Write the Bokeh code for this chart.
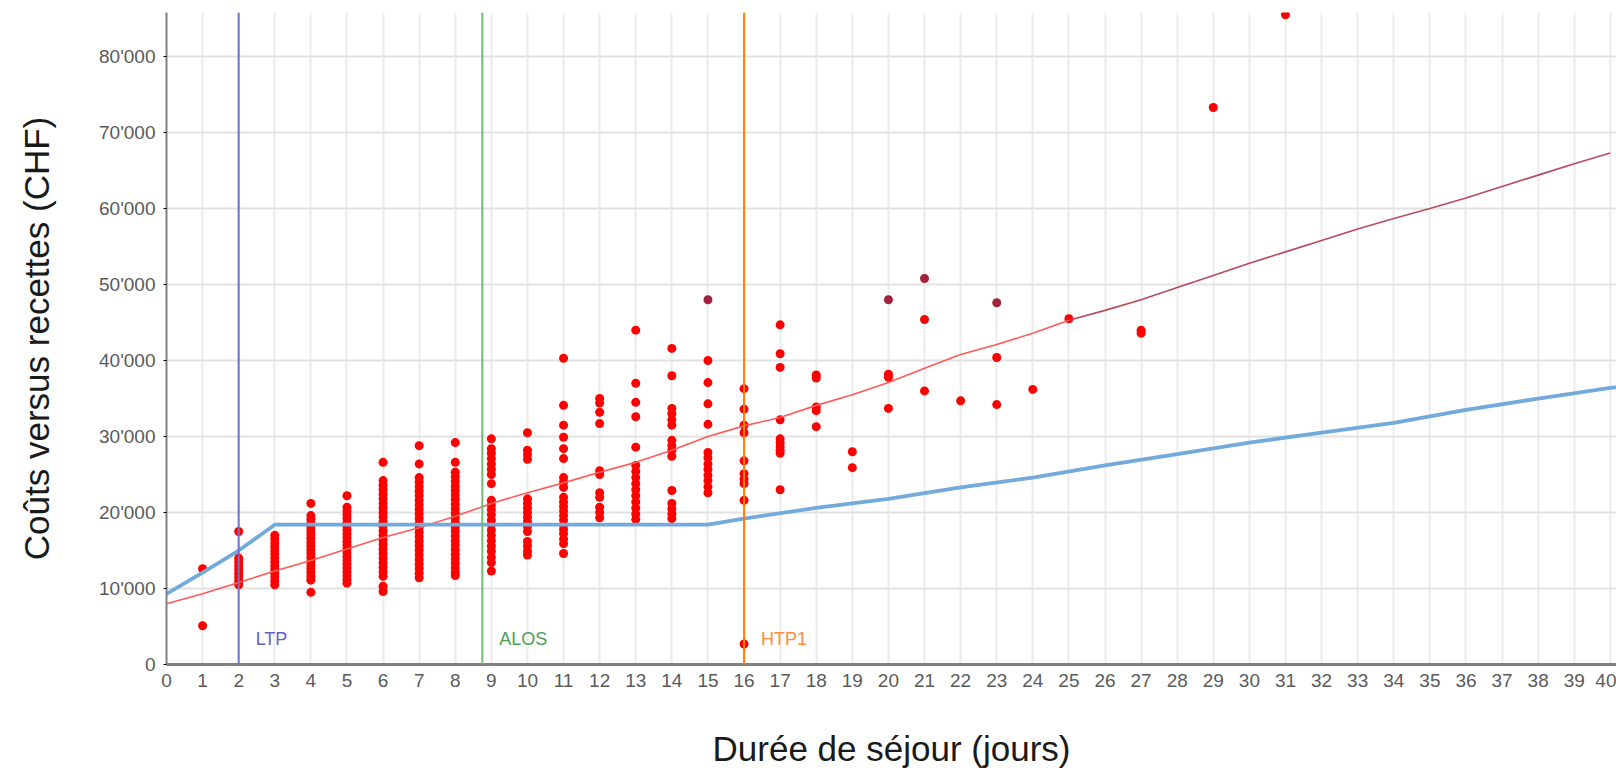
from bokeh.plotting import figure
from bokeh.models import Range1d, FixedTicker, Span, Label, ColumnDataSource
from bokeh.embed import file_html
from bokeh.resources import INLINE

# ---- cases: cost per length of stay (days) ----
d01 = [12600, 5100]
d02 = [17500, 14000, 13500, 13000, 12500, 12000, 11500, 11000, 10500]
d03 = [17000, 16500, 16000, 15500, 15000, 14500, 14000, 13500, 13000, 12500, 12000, 11500, 11000, 10500]
d04 = [21200, 19600, 19100, 18600, 18100, 17600, 17100, 16600, 16100, 15600, 15100, 14600, 14100,
       13600, 13100, 12600, 12100, 11600, 11100, 9500]
d05 = [22200, 20700, 20200, 19700, 19200, 18700, 18200, 17700, 17200, 16700, 16200, 15700, 15200,
       14700, 14200, 13700, 13200, 12700, 12200, 11700, 11200, 10700]
d06 = [26600, 24200, 23600, 23000, 22400, 21800, 21200, 20600, 20000, 19400, 18800, 18200, 17600,
       17000, 16400, 15800, 15200, 14600, 14000, 13400, 12800, 12200, 11600, 10300, 9600]
d07 = [28800, 26400, 24600, 24000, 23400, 22800, 22200, 21600, 21000, 20400, 19800, 19200, 18600,
       18000, 17400, 16800, 16200, 15600, 15000, 14400, 13800, 13200, 12600, 12000, 11400]
d08 = [29200, 26600, 25300, 24700, 24100, 23500, 22900, 22300, 21700, 21100, 20500, 19900, 19300,
       18700, 18100, 17500, 16900, 16300, 15700, 15100, 14500, 13900, 13300, 12700, 12100, 11700]
d09 = [29700, 28400, 27800, 27100, 26400, 25700, 25000, 23800, 21600, 21000, 20400, 19700, 19000,
       18400, 17700, 17000, 16300, 15600, 14900, 14100, 13400, 12300]
d10 = [30500, 28200, 27600, 27000, 21800, 21200, 20600, 20000, 19400, 18800, 18200, 17500, 16200,
       15600, 14900, 14400]
d11 = [40300, 34100, 31500, 29900, 28400, 27100, 24600, 24000, 23300, 22000, 21400, 20800, 20200,
       19600, 19000, 18400, 17800, 17200, 16500, 15900, 14600]
d12 = [35000, 34400, 33200, 31700, 25500, 25000, 22600, 22000, 20700, 20000, 19300]
d13 = [44000, 37000, 34500, 32600, 28600, 26200, 25400, 24600, 23800, 23000, 22200, 21400, 20600,
       19800, 19100]
d14 = [41600, 38000, 33700, 33000, 32200, 31500, 29500, 28800, 28200, 27400, 22900, 21200, 20500,
       19800, 19200]
d15 = [40000, 37100, 34300, 31600, 27900, 27200, 26400, 25700, 24900, 24200, 23400, 22600]
d16 = [36300, 33600, 31500, 30500, 26800, 25100, 24400, 23800, 21600, 2700]
d17 = [44700, 40900, 39100, 32200, 29700, 29200, 28700, 28200, 27800, 23000]
d18 = [38100, 37700, 33900, 33400, 31300]
d19 = [28000, 25900]
d20 = [38200, 37800, 33700]
d21 = [45400, 36000]
d22 = [34700]
d23 = [40400, 34200]
d24 = [36200]
d25 = [45500]
d27 = [44000, 43600]
d29 = [73300]
d31 = [85500]

# dark-marked cases
dark_days = [15, 20, 21, 23]
dark_costs = [48000, 48000, 50800, 47600]

# reimbursement curve (recettes)
rev_days = [0, 1, 2, 3, 15, 16, 18, 20, 22, 24, 26, 28, 30, 32, 34, 36, 38, 40, 40.2]
rev_chf = [9300, 12100, 15000, 18400, 18400, 19200, 20600, 21800, 23300, 24600, 26200, 27700,
           29200, 30500, 31800, 33500, 35000, 36400, 36500]

# cost trend line
trend_days = list(range(0, 41))
trend_chf = [8000, 9300, 10800, 12300, 13700, 15200, 16700, 18000, 19500, 21200, 22600, 23900,
             25300, 26600, 28200, 30000, 31400, 32500, 34100, 35500, 37100, 39000, 40800, 42100,
             43600, 45300, 46600, 48000, 49600, 51200, 52800, 54300, 55800, 57300, 58700, 60000,
             61400, 62900, 64400, 65900, 67300]

# markers
marker_names = ["LTP", "ALOS", "HTP1"]
marker_days = [2, 8.75, 16]

y_ticks = [0, 10000, 20000, 30000, 40000, 50000, 60000, 70000, 80000]
y_tick_labels = ["0", "10'000", "20'000", "30'000", "40'000", "50'000", "60'000", "70'000", "80'000"]
x_ticks = list(range(0, 41))

x_title = "Durée de séjour (jours)"
y_title = "Coûts versus recettes (CHF)"

groups = {1: d01, 2: d02, 3: d03, 4: d04, 5: d05, 6: d06, 7: d07, 8: d08, 9: d09, 10: d10,
          11: d11, 12: d12, 13: d13, 14: d14, 15: d15, 16: d16, 17: d17, 18: d18, 19: d19,
          20: d20, 21: d21, 22: d22, 23: d23, 24: d24, 25: d25, 27: d27, 29: d29, 31: d31}
xs, ys = [], []
for day, vals in groups.items():
    for v in vals:
        xs.append(day)
        ys.append(v)

FONT = "Liberation Sans"

p = figure(width=1616, height=771, output_backend="svg", toolbar_location=None,
           x_range=Range1d(0, 40.17), y_range=Range1d(0, 85800),
           min_border_left=166, min_border_right=0, min_border_top=12, min_border_bottom=107)
p.outline_line_color = None
p.background_fill_color = "white"

# grids
p.xgrid.ticker = FixedTicker(ticks=x_ticks)
p.ygrid.ticker = FixedTicker(ticks=y_ticks)
p.xgrid.grid_line_color = "#ebebeb"
p.xgrid.grid_line_width = 2
p.ygrid.grid_line_color = "#e2e2e2"
p.ygrid.grid_line_width = 2

# axes
p.xaxis.ticker = FixedTicker(ticks=x_ticks)
p.yaxis.ticker = FixedTicker(ticks=y_ticks)
p.yaxis.major_label_overrides = {t: l for t, l in zip(y_ticks, y_tick_labels)}
for ax in (p.xaxis, p.yaxis):
    ax.axis_line_color = "#808080"
    ax.major_label_text_font = FONT
    ax.major_label_text_font_size = "19px"
    ax.major_label_text_color = "#5a5a5a"
    ax.minor_tick_line_color = None
    ax.axis_label_text_font = FONT
    ax.axis_label_text_font_style = "normal"
    ax.axis_label_text_font_size = "35px"
    ax.axis_label_text_color = "#1a1a1a"
p.yaxis.axis_line_width = 2
p.xaxis.axis_line_width = 3
p.yaxis.major_tick_line_color = "black"
p.yaxis.major_tick_out = 3
p.yaxis.major_tick_in = 0
p.yaxis.major_label_standoff = 8
p.xaxis.major_tick_line_color = None
p.xaxis.major_label_standoff = 3
p.xaxis.axis_label = x_title
p.yaxis.axis_label = y_title
p.xaxis.axis_label_standoff = 39
p.yaxis.axis_label_standoff = 40

# cases
src = ColumnDataSource(dict(x=xs, y=ys))
p.scatter("x", "y", source=src, size=9, fill_color="#ff0000", line_color=None)
p.scatter(dark_days, dark_costs, size=9, fill_color="#a3213a", line_color=None)

# trend line
p.line(trend_days[:26], trend_chf[:26], line_color="#ff5a5a", line_width=1.6)
p.line(trend_days[25:], trend_chf[25:], line_color="#b84a5c", line_width=1.6)

# reimbursement
p.line(rev_days, rev_chf, line_color="#72aadc", line_width=3.8)

# vertical markers
m_line_colors = ["#7272d2", "#74b874", "#ff7f0e"]
m_text_colors = ["#6262c4", "#4aa05a", "#ff8c3a"]
for name, day, lc, tc in zip(marker_names, marker_days, m_line_colors, m_text_colors):
    p.add_layout(Span(location=day, dimension="height", line_color=lc, line_width=2))
    p.add_layout(Label(x=day, y=3400, x_offset=17, text=name, text_font=FONT,
                       text_font_size="18px", text_color=tc, text_baseline="middle"))

open("out.html", "w").write(file_html(p, INLINE))
